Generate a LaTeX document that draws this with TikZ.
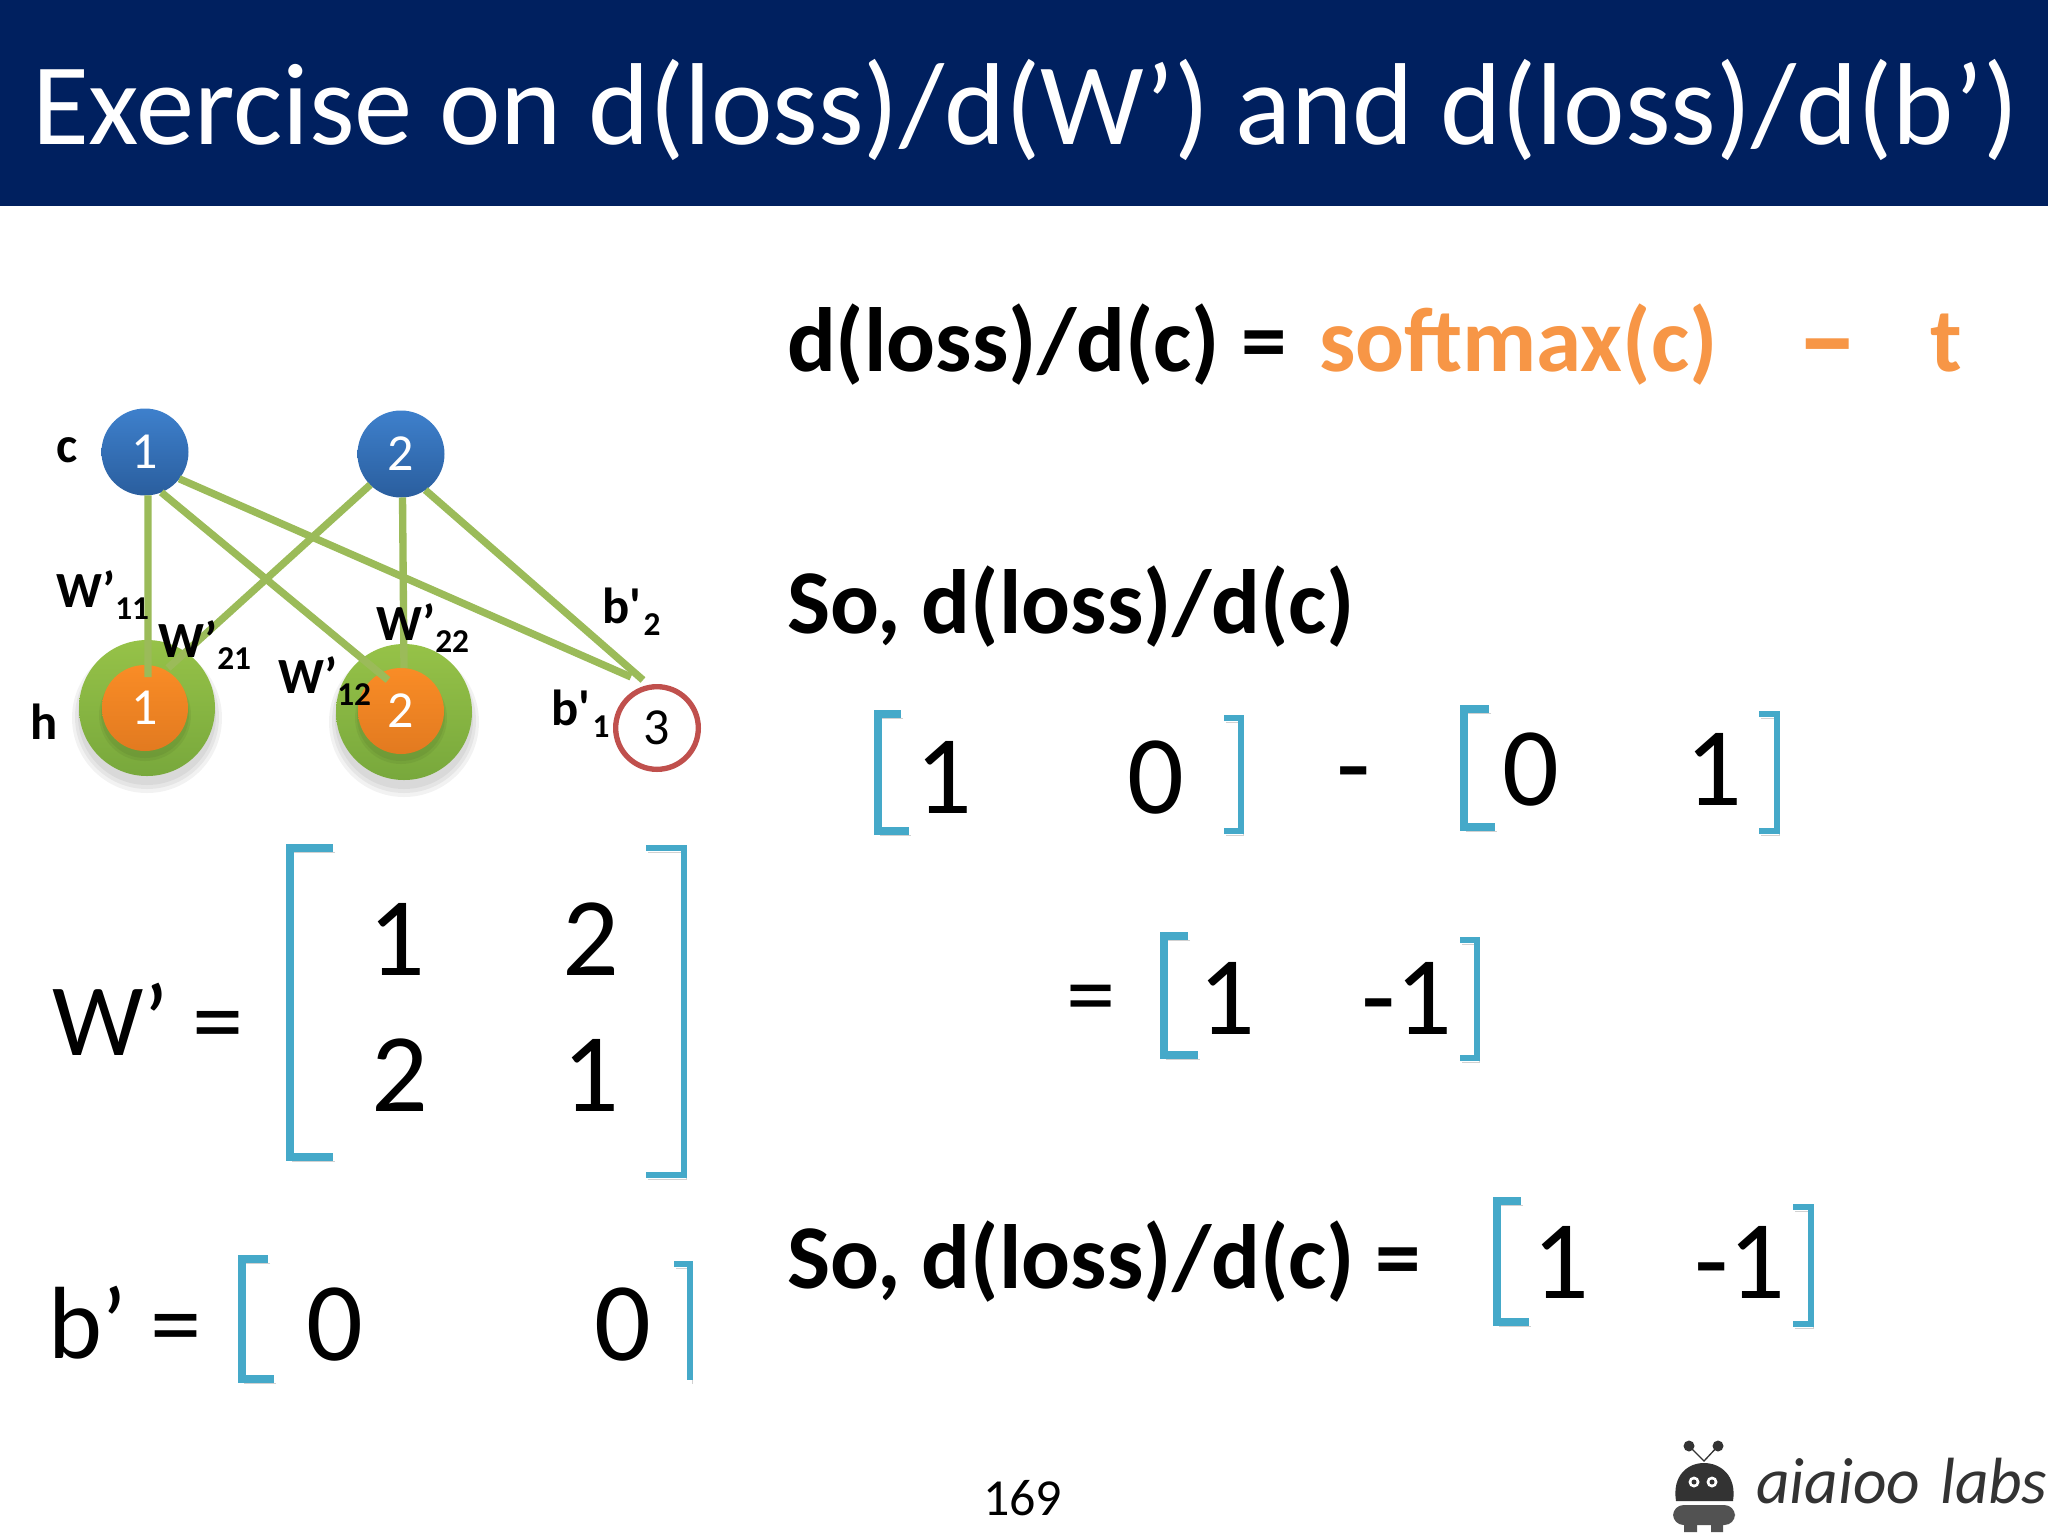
\documentclass[tikz,border=0pt]{standalone}
\usepackage{fontspec}
\setmainfont{Carlito}
\newfontfamily\plainf{Carlito}
\usetikzlibrary{calc}
\definecolor{navy}{HTML}{00205F}
\definecolor{brk}{HTML}{45A9C9}
\definecolor{edge}{HTML}{9BBB59}
\definecolor{soft}{HTML}{F79646}
\definecolor{ring}{HTML}{C0504D}
\definecolor{robot}{HTML}{333333}
\definecolor{blueT}{HTML}{3E80CC}
\definecolor{blueB}{HTML}{2A5E9E}
\definecolor{greenT}{HTML}{96C248}
\definecolor{greenB}{HTML}{78A83C}
\definecolor{orT}{HTML}{F98C26}
\definecolor{orB}{HTML}{E27A20}
\newcommand{\fs}[1]{\fontsize{#1}{#1}\selectfont}
\newcommand{\lab}[2]{#1\raisebox{-9pt}{\fs{25}#2}}
\newcommand{\dg}[1]{\raisebox{-1.5pt}{#1}}
\tikzset{
 x=0.75pt,y=-0.75pt,
 txt/.style={anchor=base west,inner sep=0pt,outer sep=0pt,text=black},
 titletxt/.style={txt,text=white,font=\fs{87.4}},
 boldtxt/.style={txt,font=\fs{68.4}\bfseries},
 bigtxt/.style={txt,font=\fs{84}},
 lhstxt/.style={txt,font=\fs{77}},
 smalltxt/.style={txt,font=\fs{38}\bfseries},
 brshadow/.style={preaction={draw=black!18,transform canvas={xshift=1.5pt,yshift=-3pt}}},
 brl/.style={draw=brk,line width=5.5pt,line join=miter,brshadow},
 brr/.style={draw=brk,line width=4.2pt,line join=miter,brshadow},
 link/.style={draw=edge,line width=5.5pt},
 disc/.style={circle,minimum size=#1*0.75pt,inner sep=0pt,outer sep=0pt,text=white,font=\fs{39}},
 bluedisc/.style={disc=87,top color=blueT,bottom color=blueB},
 greendisc/.style={disc=136,top color=greenT,bottom color=greenB},
 orangedisc/.style={disc=86,top color=orT,bottom color=orB},
 halo/.style={circle,minimum size=#1*0.75pt,inner sep=0pt,fill=black,opacity=0.05},
}
\begin{document}
\begin{tikzpicture}
\useasboundingbox (0,0) rectangle (2048,1536);
\fill[white] (0,0) rectangle (2048,1536);
\fill[navy] (0,0) rectangle (2048,206);
\node[titletxt] (title) at (32,144) {Exercise on d(loss)/d(W’) and d(loss)/d(b’)};

% network
\node[halo=138] (sh1) at (147,716) {};
\node[halo=144] (sh1b) at (147,717) {};
\node[halo=150] (sh1c) at (147,718) {};
\node[halo=138] (sh2) at (404,720) {};
\node[halo=144] (sh2b) at (404,721) {};
\node[halo=150] (sh2c) at (404,722) {};
\node[greendisc] (h1o) at (147,708) {};
\node[greendisc] (h2o) at (404,712) {};
\node[halo=88] (sh3) at (145,714) {};
\node[halo=92] (sh3b) at (145,715) {};
\node[halo=88] (sh4) at (401,717) {};
\node[halo=92] (sh4b) at (401,718) {};
\node[orangedisc] (h1) at (145,708) {\dg{1}};
\node[orangedisc] (h2) at (401,711) {\dg{2}};
\node[bluedisc] (c1) at (145,452) {\dg{1}};
\node[bluedisc] (c2) at (401,454) {\dg{2}};
\node[circle,draw=ring,line width=4pt,minimum size=62pt,inner sep=0pt,font=\fs{39}] (b3) at (657,728) {\dg{3}};

\draw[link] (c1.-86) -- ([shift={(3,-31)}]h1.center);
\draw[link] (c2.-88) -- ([shift={(3,-43)}]h2.center);
\draw[link] (c1.-38) -- ([shift={(-26,-51)}]b3.center);
\draw[link] (c1.-68) -- ([shift={(-13,-31)}]h2.center);
\draw[link] (c2.-135) -- ([shift={(23,-40)}]h1.center);
\draw[link] (c2.-56) -- ([shift={(-14,-48)}]b3.center);

\node[smalltxt] (lc) at (56,462) {c};
\node[smalltxt] (lh) at (31,739) {h};
\node[smalltxt] (w11) at (56,607) {\lab{W’}{11}};
\node[smalltxt] (w21) at (158,657) {\lab{W’}{21}};
\node[smalltxt] (w12) at (278,693) {\lab{W’}{12}};
\node[smalltxt] (w22) at (376,640) {\lab{W’}{22}};
\node[smalltxt] (b2) at (602,623) {\lab{{\plainf\bfseries b'}}{\kern2pt 2}};
\node[smalltxt] (b1) at (551,725) {\lab{{\plainf\bfseries b'}}{\kern2pt 1}};

% W' matrix
\node[lhstxt] (wl) at (52,1055) {W’ =};
\node[bigtxt] (m11) at (368,975) {1};
\node[bigtxt] (m12) at (562,975) {2};
\node[bigtxt] (m21) at (371,1111) {2};
\node[bigtxt] (m22) at (562,1111) {1};
\draw[brl] (333,848) -- (290,848) -- (290,1157) -- (333,1157);
\draw[brr] (646,848) -- (684,848) -- (684,1175) -- (646,1175);

% b'
\node[lhstxt] (bl) at (48,1358) {b’ =};
\node[bigtxt] (b01) at (306,1360) {0};
\node[bigtxt] (b02) at (594,1360) {0};
\draw[brl] (268,1259) -- (242,1259) -- (242,1379) -- (274,1379);
\draw[brr] (674,1264) -- (690,1264) -- (690,1380);

% right column
\node[boldtxt] (eq1) at (787,371) {d(loss)/d(c) =};
\node[boldtxt,text=soft] (sm) at (1319,371) {softmax(c)};
\node[boldtxt,text=soft,font=\fs{91}\bfseries] (dash) at (1797,378) {–};
\node[boldtxt,text=soft] (tt) at (1930,371) {t};
\node[boldtxt] (so1) at (787,633) {So, d(loss)/d(c)};

\node[bigtxt] (a1) at (915,813) {1};
\node[bigtxt] (a2) at (1127,813) {0};
\draw[brl] (901,714) -- (878,714) -- (878,831) -- (909,831);
\draw[brr] (1224,718) -- (1241,718) -- (1241,831) -- (1224,831);
\node[bigtxt] (minus) at (1336,802) {-};
\node[bigtxt] (a3) at (1502,805) {0};
\node[bigtxt] (a4) at (1685,805) {1};
\draw[brl] (1489,709) -- (1464,709) -- (1464,827) -- (1495,827);
\draw[brr] (1759,714) -- (1777,714) -- (1777,831) -- (1759,831);

\node[txt,font=\fs{74}] (eq2) at (1066,1027) {=};
\node[bigtxt] (r1) at (1198,1034) {1};
\node[bigtxt] (r2) at (1361,1034) {-1};
\draw[brl] (1188,936) -- (1164,936) -- (1164,1055) -- (1198,1055);
\draw[brr] (1460,940) -- (1477,940) -- (1477,1058) -- (1460,1058);

\node[boldtxt] (so2) at (787,1288) {So, d(loss)/d(c) =};
\node[bigtxt] (s1) at (1532,1298) {1};
\node[bigtxt] (s2) at (1694,1298) {-1};
\draw[brl] (1521,1201) -- (1497,1201) -- (1497,1322) -- (1529,1322);
\draw[brr] (1793,1207) -- (1811,1207) -- (1811,1324) -- (1793,1324);

\node[txt,font=\fs{39}] (page) at (983,1515) {169};

% logo
\fill[robot] (1689,1446) circle (5.5);
\fill[robot] (1718,1446) circle (5.5);
\draw[robot,line width=1pt] (1689,1446) -- (1704,1461) -- (1718,1446);
\fill[robot] (1676,1501) .. controls (1672,1475) and (1688,1463) .. (1704,1463) .. controls (1720,1463) and (1737,1475) .. (1733,1501) -- cycle;
\fill[white] (1694,1482) circle (5.5) (1712,1482) circle (5.5);
\fill[robot] (1694,1482) circle (2.5) (1712,1482) circle (2.5);
\fill[robot!85,rounded corners=8pt] (1673,1505) rectangle (1735,1525);
\fill[robot!85] (1684,1520) rectangle (1697,1532) (1711,1520) rectangle (1723,1532);
\node[txt,font=\itshape\fs{49},text=robot] (logo) at (1756,1503) {aiaioo\hspace{15pt}labs};
\end{tikzpicture}
\end{document}
